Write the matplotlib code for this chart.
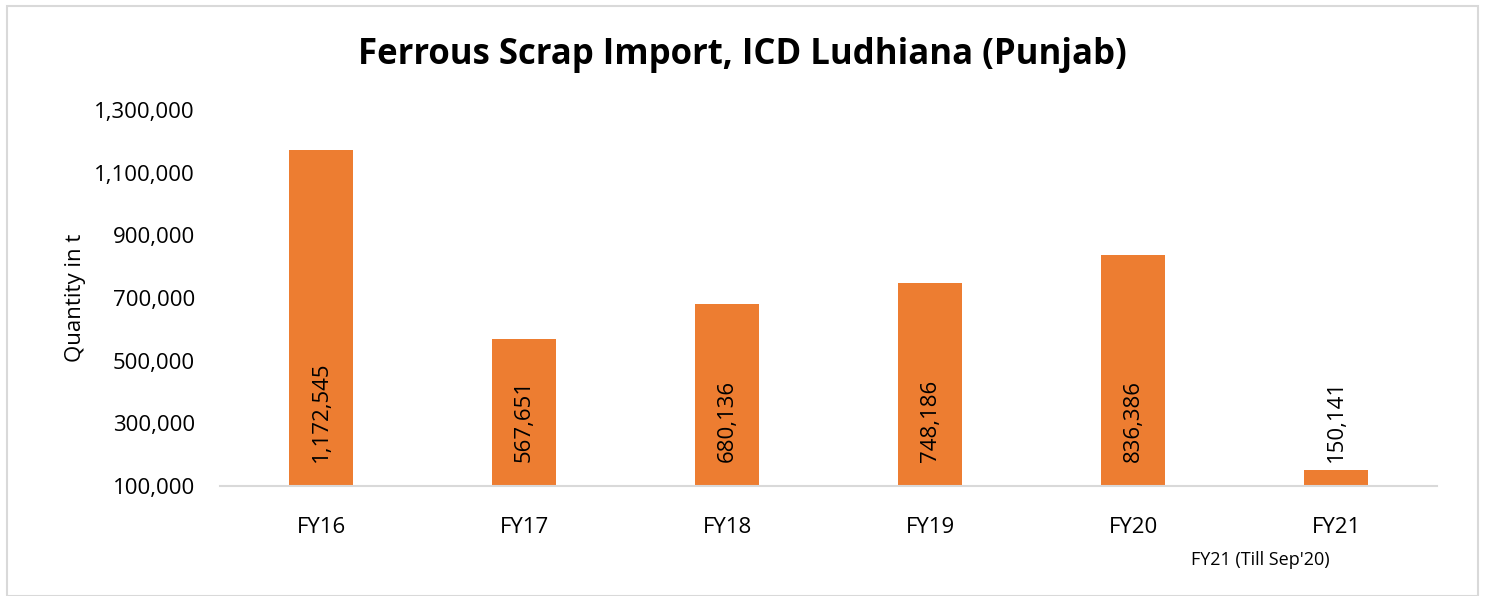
import matplotlib.pyplot as plt
from matplotlib.patches import Rectangle

# chart data
years = ['FY16', 'FY17', 'FY18', 'FY19', 'FY20', 'FY21']
quantity = [1172545, 567651, 680136, 748186, 836386, 150141]
y_ticks = [100000, 300000, 500000, 700000, 900000, 1100000, 1300000]

plt.rcParams['font.family'] = ['Open Sans', 'DejaVu Sans']

fig = plt.figure(figsize=(14.85, 5.96), dpi=100)
ax = fig.add_axes([0.148, 0.1846, 0.82, 0.6308])

x = range(len(years))
bars = ax.bar(x, [q - 100000 for q in quantity], bottom=100000, width=0.315,
              color='#ED7D31')

# value labels: inside base, last one above bar (too short)
for i, q in enumerate(quantity):
    label = f'{q:,}'
    if i == len(quantity) - 1:
        ax.text(i, q + 25000, label, rotation=90, ha='center', va='bottom',
                fontsize=16, color='black')
    else:
        ax.text(i, 100000 + 75000, label, rotation=90, ha='center', va='bottom',
                fontsize=16, color='black')

ax.set_xlim(-0.5, len(years) - 0.5)
ax.set_ylim(100000, 1300000)
ax.set_xticks(list(x))
ax.set_xticklabels(years, fontsize=16)
ax.set_yticks(y_ticks)
ax.set_yticklabels([f'{t:,}' for t in y_ticks], fontsize=16)
ax.tick_params(axis='both', length=0)
ax.tick_params(axis='x', pad=22)
ax.tick_params(axis='y', pad=18)

for s in ['top', 'right', 'left']:
    ax.spines[s].set_visible(False)
ax.spines['bottom'].set_color('#D9D9D9')
ax.spines['bottom'].set_linewidth(1.5)

ax.set_ylabel('Quantity in t', fontsize=16)
ax.yaxis.set_label_coords(-0.11, 0.5)
fig.text(0.5, 0.908, 'Ferrous Scrap Import, ICD Ludhiana (Punjab)',
         ha='center', va='center', fontsize=25, fontweight='bold')
fig.text(0.849, 0.06, "FY21 (Till Sep'20)", ha='center', va='center', fontsize=13)

fig.patches.append(Rectangle((0.005, 0.0), 0.99, 0.99, transform=fig.transFigure,
                             fill=False, edgecolor='#D9D9D9', linewidth=1.5))

fig.savefig('out.png', dpi=100)
